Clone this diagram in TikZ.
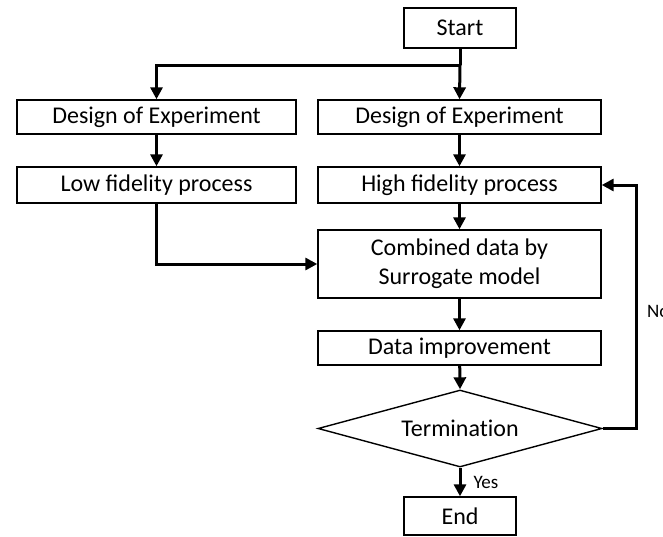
\documentclass[tikz,border=0pt]{standalone}
\usepackage{fontspec}
\setmainfont{Carlito}
\usetikzlibrary{arrows.meta,shapes.geometric}
\begin{document}
\begin{tikzpicture}[x=1pt,y=-1pt,
  box/.style={draw,line width=1.4pt,inner sep=0pt,font=\fontsize{24}{29}\selectfont,align=center},
  flow/.style={line width=3pt,-{Triangle[width=12pt,length=12pt]}},
  plain/.style={line width=3pt},
  lbl/.style={font=\fontsize{19}{22}\selectfont,inner sep=0pt}]
\useasboundingbox (0,0) rectangle (663,536);
\node[box,minimum width=112pt,minimum height=40pt] (start) at (460,28) {Start};
\node[box,minimum width=279pt,minimum height=34pt] (doeL) at (156.5,117) {Design of Experiment};
\node[box,minimum width=283pt,minimum height=34pt] (doeR) at (459.5,117) {Design of Experiment};
\node[box,minimum width=279pt,minimum height=36pt] (low) at (156.5,185) {Low fidelity process};
\node[box,minimum width=283pt,minimum height=36pt] (high) at (459.5,185) {High fidelity process};
\node[box,minimum width=283pt,minimum height=68pt] (comb) at (459.5,264) {Combined data by\\Surrogate model};
\node[box,diamond,aspect=3.7,minimum width=284pt,minimum height=77pt] (term) at (460,428.5) {\addfontfeature{Ligatures=NoCommon}Termination};
\node[box,minimum width=283pt,minimum height=34pt] (imp) at (459.5,348) {Data improvement};
\node[box,minimum width=112pt,minimum height=38pt] (end) at (460,516) {End};
\coordinate (split) at (460,65);
\coordinate (splitL) at (156.5,65);
\coordinate (lowTurn) at (156.5,264);
\coordinate (noB) at (636,428.5);
\coordinate (noT) at (636,185);
\draw[plain] (start.south) -- (split);
\draw[flow] (split) -- (doeR.north);
\draw[flow] (split) -- (splitL) -- (doeL.north);
\draw[flow] (doeL) -- (low);
\draw[flow] (doeR) -- (high);
\draw[flow] (low.south) -- (lowTurn) -- (comb.west);
\draw[flow] (high) -- (comb);
\draw[flow] (comb) -- (imp);
\draw[flow] (imp) -- (term.north);
\draw[flow] (term.south) -- (end.north) node[lbl,midway,right=12pt] {Yes};
\draw[flow] (term.east) -- (noB) -- (noT) -- (high.east);
\node[lbl,anchor=west] (no) at (647,311) {No};
\end{tikzpicture}
\end{document}
